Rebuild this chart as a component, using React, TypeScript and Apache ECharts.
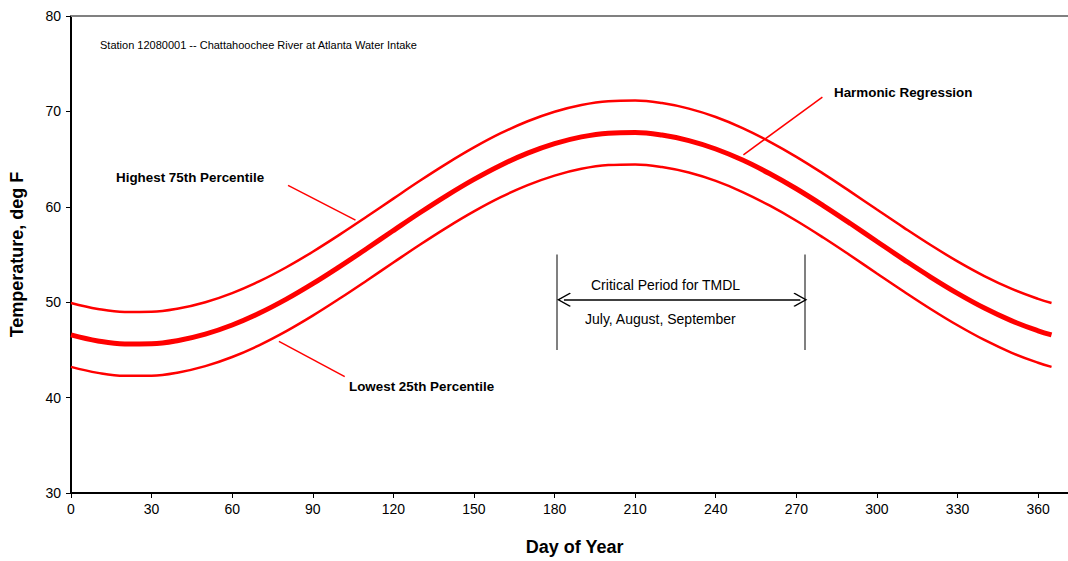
import React, { useEffect, useRef } from "react";
import * as echarts from "echarts";

const days = [0, 10, 20, 30, 40, 50, 60, 70, 80, 90, 100, 110, 120, 130, 140, 150, 160, 170, 180, 190, 200, 210, 220, 230, 240, 250, 260, 270, 280, 290, 300, 310, 320, 330, 340, 350, 360, 365];
const regression = [46.57, 45.94, 45.63, 45.65, 45.99, 46.65, 47.61, 48.83, 50.29, 51.94, 53.73, 55.6, 57.51, 59.4, 61.2, 62.87, 64.36, 65.62, 66.62, 67.33, 67.72, 67.79, 67.52, 66.94, 66.06, 64.9, 63.49, 61.89, 60.13, 58.27, 56.36, 54.47, 52.64, 50.93, 49.39, 48.07, 47.0, 46.57];
const upper75 = [49.92, 49.29, 48.98, 49.0, 49.34, 50.0, 50.96, 52.18, 53.64, 55.29, 57.08, 58.95, 60.86, 62.75, 64.55, 66.22, 67.71, 68.97, 69.97, 70.68, 71.07, 71.14, 70.87, 70.29, 69.41, 68.25, 66.84, 65.24, 63.48, 61.62, 59.71, 57.82, 55.99, 54.28, 52.74, 51.42, 50.35, 49.92];
const lower25 = [43.22, 42.59, 42.28, 42.3, 42.64, 43.3, 44.26, 45.48, 46.94, 48.59, 50.38, 52.25, 54.16, 56.05, 57.85, 59.52, 61.01, 62.27, 63.27, 63.98, 64.37, 64.44, 64.17, 63.59, 62.71, 61.55, 60.14, 58.54, 56.78, 54.92, 53.01, 51.12, 49.29, 47.58, 46.04, 44.72, 43.65, 43.22];

const criticalStart = 181;
const criticalEnd = 273;

const FONT = "Liberation Sans, Arial, sans-serif";
const RED = "#ff0000";

const chevron = "path://M0,0 L10,9 L9,10 L0,2 L-9,10 L-10,9 Z";

export default function App() {
  const ref = useRef<HTMLDivElement>(null);
  useEffect(() => {
    if (!ref.current) return;
    const chart = echarts.init(ref.current, null, { renderer: "svg" });
    const pairs = (ys: number[]) => days.map((d, i) => [d, ys[i]]);
    const curve = (name: string, ys: number[], width: number) => ({
      name,
      type: "line",
      data: pairs(ys),
      smooth: 0.4,
      showSymbol: false,
      lineStyle: { color: RED, width },
      silent: true,
    });
    chart.setOption({
      animation: false,
      textStyle: { fontFamily: FONT },
      grid: { left: 70, top: 16, width: 1008.4, height: 479, containLabel: false },
      xAxis: [
        {
          type: "value",
          min: 0,
          max: 375,
          interval: 30,
          position: "bottom",
          name: "Day of Year",
          nameLocation: "middle",
          nameGap: 45,
          nameTextStyle: { fontSize: 18, fontWeight: "bold", color: "#000", fontFamily: FONT },
          axisLine: { lineStyle: { color: "#000", width: 2 } },
          axisTick: { length: 5, lineStyle: { color: "#000", width: 1 } },
          axisLabel: { fontSize: 14, color: "#000", margin: 9, showMaxLabel: false, fontFamily: FONT },
          splitLine: { show: false },
        },
        {
          type: "value",
          min: 0,
          max: 375,
          position: "top",
          axisLine: { show: true, lineStyle: { color: "#808080", width: 2 } },
          axisTick: { show: false },
          axisLabel: { show: false },
          splitLine: { show: false },
        },
      ],
      yAxis: {
        type: "value",
        min: 30,
        max: 80,
        interval: 10,
        name: "Temperature, deg F",
        nameLocation: "middle",
        nameGap: 37,
        nameTextStyle: { fontSize: 18, fontWeight: "bold", color: "#000", fontFamily: FONT, padding: [0, 0, 8, 0] },
        axisLine: { show: true, lineStyle: { color: "#000", width: 2 } },
        axisTick: { show: true, length: 5, lineStyle: { color: "#000", width: 1 } },
        axisLabel: { fontSize: 14, color: "#000", margin: 10, fontFamily: FONT },
        splitLine: { show: false },
      },
      series: [
        curve("Highest 75th Percentile", upper75, 2.5),
        curve("Harmonic Regression", regression, 5),
        curve("Lowest 25th Percentile", lower25, 2.5),
        {
          name: "leaders",
          type: "line",
          data: [],
          silent: true,
          markLine: {
            silent: true,
            symbol: ["none", "none"],
            label: { show: false },
            lineStyle: { color: RED, width: 1.5, type: "solid" },
            emphasis: { disabled: true },
            data: [
              [{ coord: [80.8, 62.25] }, { coord: [105.9, 58.6] }],
              [{ coord: [77.4, 45.9] }, { coord: [101.9, 42.2] }],
              [{ coord: [279.7, 71.5] }, { coord: [250.3, 65.45] }],
            ],
          },
        },
        {
          name: "critical bounds",
          type: "line",
          data: [],
          silent: true,
          markLine: {
            silent: true,
            symbol: ["none", "none"],
            label: { show: false },
            lineStyle: { color: "#808080", width: 2, type: "solid" },
            emphasis: { disabled: true },
            data: [
              [{ coord: [criticalStart, 45] }, { coord: [criticalStart, 55] }],
              [{ coord: [criticalEnd, 45] }, { coord: [criticalEnd, 55] }],
            ],
          },
        },
        {
          name: "critical arrow",
          type: "line",
          data: [],
          silent: true,
          markLine: {
            silent: true,
            symbol: [chevron, chevron],
            symbolSize: [14, 14],
            label: { show: false },
            lineStyle: { color: "#000", width: 1.5, type: "solid" },
            emphasis: { disabled: true },
            data: [[{ coord: [criticalStart + 2.5, 50.25] }, { coord: [criticalEnd - 1.5, 50.25] }]],
          },
        },
      ],
      graphic: [
        {
          type: "text",
          left: 100,
          top: 39,
          style: { text: "Station 12080001 -- Chattahoochee River at Atlanta Water Intake", font: `11px ${FONT}`, fill: "#000" },
        },
        {
          type: "text",
          left: 116,
          top: 171,
          style: { text: "Highest 75th Percentile", font: `bold 13.4px ${FONT}`, fill: "#000" },
        },
        {
          type: "text",
          left: 349,
          top: 380,
          style: { text: "Lowest 25th Percentile", font: `bold 13.4px ${FONT}`, fill: "#000" },
        },
        {
          type: "text",
          left: 834,
          top: 86,
          style: { text: "Harmonic Regression", font: `bold 13.4px ${FONT}`, fill: "#000" },
        },
        {
          type: "text",
          left: 591,
          top: 278,
          style: { text: "Critical Period for TMDL", font: `14px ${FONT}`, fill: "#000" },
        },
        {
          type: "text",
          left: 585,
          top: 312,
          style: { text: "July, August, September", font: `14px ${FONT}`, fill: "#000" },
        },
      ],
    });
    return () => chart.dispose();
  }, []);
  return (
    <div style={{ position: "absolute", left: 0, top: 0, width: 1068, height: 561, overflow: "hidden" }}>
      <div ref={ref} style={{ width: 1092, height: 561 }} />
    </div>
  );
}
